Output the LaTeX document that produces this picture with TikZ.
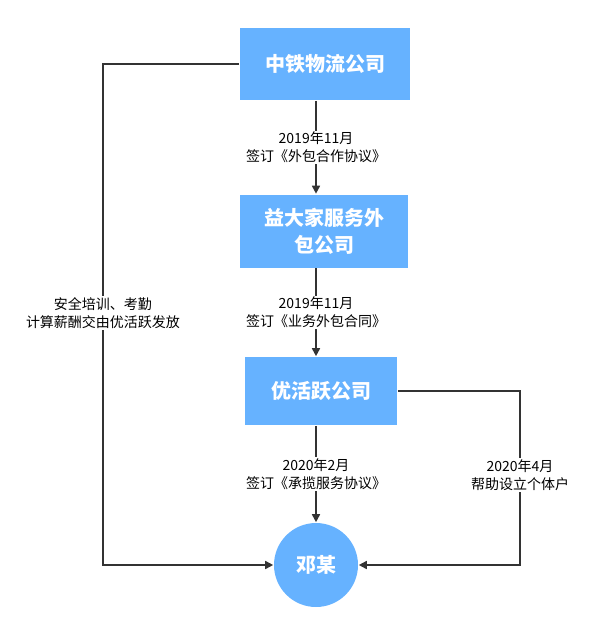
\documentclass[tikz,border=0pt]{standalone}
\usepackage{fontspec}
\setmainfont{Noto Sans CJK SC}
\usetikzlibrary{arrows.meta}
\definecolor{boxblue}{HTML}{66B2FF}
\definecolor{linegray}{HTML}{333333}
\begin{document}
\begin{tikzpicture}[x=1pt,y=-1pt,>={Triangle[length=8pt,width=8pt]},
                    line width=1.6pt,draw=linegray]
   \tikzset{firm/.style={fill=boxblue,draw=none,text=white,font=\bfseries\fontsize{20}{27}\selectfont,
                         align=center,inner sep=0pt},
            note/.style={fill=white,inner sep=1pt,align=center,text=black,
                         font=\fontsize{14}{18}\selectfont}}
   \useasboundingbox (0,0) rectangle (600,619);

   \node[firm,minimum width=170pt,minimum height=72pt] (Z) at (325,64)  {中铁物流公司};
   \node[firm,minimum width=168pt,minimum height=73pt] (Y) at (324,231) {益大家服务外\\包公司};
   \node[firm,minimum width=152pt,minimum height=68pt] (H) at (321,391) {优活跃公司};
   \node[firm,circle,minimum size=84pt]                (D) at (316,565) {邓某};

   \coordinate (L1) at (103,64);
   \coordinate (L2) at (103,565);
   \coordinate (R1) at (520,391);
   \coordinate (R2) at (520,565);

   \draw[->,draw=linegray] (Z.south -| 316,0) -- (Y.north -| 316,0)
        node[note,midway] {2019年11月\\签订《外包合作协议》};
   \draw[->,draw=linegray] (Y.south -| 316,0) -- (H.north -| 316,0)
        node[note,midway] {2019年11月\\签订《业务外包合同》};
   \draw[->,draw=linegray] (H.south -| 316,0) -- (D.north)
        node[note,midway] {2020年2月\\签订《承揽服务协议》};
   \draw[->,draw=linegray] (Z.west) -- (L1) -- (L2) -- (D.west);
   \draw[->,draw=linegray] (H.east) -- (R1) -- (R2) -- (D.east);
   \node[note] (Lnote) at (103,313) {安全培训、考勤\\计算薪酬交由优活跃发放};
   \node[note] (Rnote) at (520,475) {2020年4月\\帮助设立个体户};
\end{tikzpicture}
\end{document}
